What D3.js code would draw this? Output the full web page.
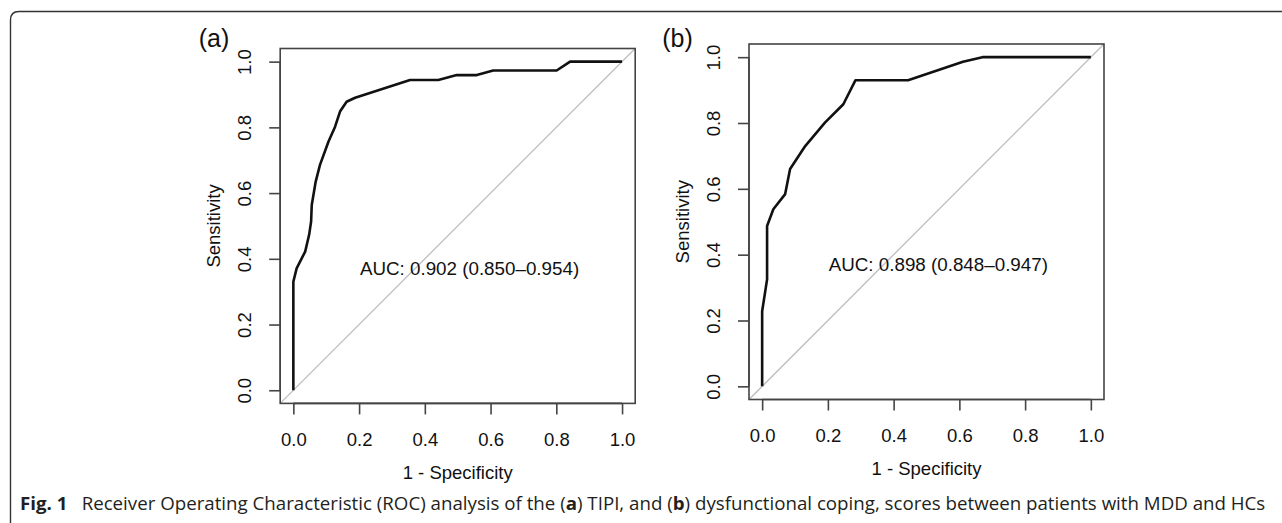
<!DOCTYPE html>
<html>
<head>
<meta charset="utf-8">
<script src="https://cdn.jsdelivr.net/npm/d3@7"></script>
<style>
  body { margin: 0; background: #fff; }
  svg { display: block; }
</style>
</head>
<body>
<div id="chart"></div>
<script>
// ROC curve points (x = 1 - specificity, y = sensitivity)
var fprA = [0, 0, 0.010, 0.036, 0.048, 0.054, 0.056, 0.068, 0.081, 0.107, 0.127, 0.142, 0.162, 0.188, 0.355, 0.441, 0.497, 0.558, 0.608, 0.801, 0.842, 1.0];
var tprA = [0, 0.330, 0.371, 0.422, 0.473, 0.513, 0.564, 0.635, 0.686, 0.757, 0.802, 0.848, 0.878, 0.890, 0.944, 0.944, 0.959, 0.959, 0.973, 0.973, 1.0, 1.0];

var fprB = [0, 0, 0.015, 0.015, 0.034, 0.070, 0.085, 0.131, 0.191, 0.247, 0.284, 0.444, 0.611, 0.670, 1.0];
var tprB = [0, 0.228, 0.325, 0.487, 0.538, 0.584, 0.660, 0.730, 0.801, 0.857, 0.930, 0.930, 0.986, 1.0, 1.0];

var xTicks = [0, 0.2, 0.4, 0.6, 0.8, 1.0];
var yTicks = [0, 0.2, 0.4, 0.6, 0.8, 1.0];
var tickLabels = ["0.0", "0.2", "0.4", "0.6", "0.8", "1.0"];

var panelTags = ["(a)", "(b)"];
var aucLabels = ["AUC: 0.902 (0.850\u20130.954)", "AUC: 0.898 (0.848\u20130.947)"];

var W = 1282, H = 523;
var svg = d3.select("#chart").append("svg")
    .attr("width", W)
    .attr("height", H);

// outer figure frame (top + left edge, rounded corner)
svg.append("path")
    .attr("d", "M10.5,523 L10.5,20 Q10.5,11.5 19,11.5 L1282,11.5")
    .attr("fill", "none")
    .attr("stroke", "#333")
    .attr("stroke-width", 1.4);

var rFont = "'Liberation Sans', Arial, Helvetica, sans-serif";

// panel boxes in pixels (R usr extends 4% beyond 0..1)
var panels = [
    {fpr: fprA, tpr: tprA, left: 280.2, right: 635.2, top: 48.5, bottom: 403.4, tag: panelTags[0], auc: aucLabels[0], tagX: 214, tagY: 47},
    {fpr: fprB, tpr: tprB, left: 749, right: 1104, top: 44, bottom: 399.5, tag: panelTags[1], auc: aucLabels[1], tagX: 677.5, tagY: 47}
];

panels.forEach(function(p) {
    var x = d3.scaleLinear().domain([-0.04, 1.04]).range([p.left, p.right]);
    var y = d3.scaleLinear().domain([-0.04, 1.04]).range([p.bottom, p.top]);

    var g = svg.append("g");

    // diagonal reference
    g.append("line")
        .attr("x1", x(-0.04)).attr("y1", y(-0.04))
        .attr("x2", x(1.04)).attr("y2", y(1.04))
        .attr("stroke", "#bdbdbd")
        .attr("stroke-width", 1.3);

    // box
    g.append("rect")
        .attr("x", p.left).attr("y", p.top)
        .attr("width", p.right - p.left).attr("height", p.bottom - p.top)
        .attr("fill", "none")
        .attr("stroke", "#444")
        .attr("stroke-width", 1.6);

    // axes
    var xAxis = d3.axisBottom(x).tickValues(xTicks)
        .tickFormat(function(d, i) { return tickLabels[i]; })
        .tickSizeOuter(0).tickSizeInner(11).tickPadding(10);
    var gx = g.append("g").attr("transform", "translate(0," + p.bottom + ")").call(xAxis);
    gx.select(".domain").attr("d", "M" + x(0) + ",0H" + x(1)).attr("stroke", "#444").attr("stroke-width", 1.6);
    gx.selectAll(".tick line").attr("stroke", "#444").attr("stroke-width", 1.6);
    gx.selectAll(".tick text")
        .attr("font-family", rFont).attr("font-size", 18.5).attr("fill", "#111")
        .attr("dy", null).attr("y", 36).attr("dominant-baseline", "central");

    var yAxis = d3.axisLeft(y).tickValues(yTicks)
        .tickFormat(function(d, i) { return tickLabels[i]; })
        .tickSizeOuter(0).tickSizeInner(11);
    var gy = g.append("g").attr("transform", "translate(" + p.left + ",0)").call(yAxis);
    gy.select(".domain").attr("d", "M0," + y(0) + "V" + y(1)).attr("stroke", "#444").attr("stroke-width", 1.6);
    gy.selectAll(".tick line").attr("stroke", "#444").attr("stroke-width", 1.6);
    gy.selectAll(".tick text")
        .attr("font-family", rFont).attr("font-size", 18.5).attr("fill", "#111")
        .attr("x", null).attr("dy", null)
        .attr("text-anchor", "middle").attr("dominant-baseline", "central")
        .attr("transform", "translate(-36,0) rotate(-90)");

    // axis titles
    g.append("text")
        .attr("x", x(0.5)).attr("y", p.bottom + 69)
        .attr("text-anchor", "middle").attr("dominant-baseline", "central")
        .attr("font-family", rFont).attr("font-size", 18.5).attr("fill", "#111")
        .text("1 - Specificity");
    g.append("text")
        .attr("transform", "translate(" + (p.left - 67) + "," + y(0.5) + ") rotate(-90)")
        .attr("text-anchor", "middle").attr("dominant-baseline", "central")
        .attr("font-family", rFont).attr("font-size", 18.5).attr("fill", "#111")
        .text("Sensitivity");

    // ROC curve
    var pts = p.fpr.map(function(d, i) { return [d, p.tpr[i]]; });
    var line = d3.line().x(function(d) { return x(d[0]); }).y(function(d) { return y(d[1]); });
    g.append("path")
        .datum(pts)
        .attr("d", line)
        .attr("fill", "none")
        .attr("stroke", "#111")
        .attr("stroke-width", 2.6)
        .attr("stroke-linejoin", "round");

    // AUC label
    g.append("text")
        .attr("x", x(0.536)).attr("y", y(0.35))
        .attr("text-anchor", "middle")
        .attr("font-family", rFont).attr("font-size", 18.8).attr("fill", "#111")
        .text(p.auc);

    // panel tag
    g.append("text")
        .attr("x", p.tagX).attr("y", p.tagY)
        .attr("text-anchor", "middle")
        .attr("font-family", rFont).attr("font-size", 25).attr("fill", "#111")
        .text(p.tag);
});

// caption: drawn at natural width, then squeezed horizontally to fit
var capG = svg.append("g");
var cap = capG.append("text")
    .attr("x", 0).attr("y", 0)
    .attr("font-family", "'Open Sans', 'Noto Sans', sans-serif")
    .attr("font-size", 18.5)
    .attr("fill", "#231f20");
cap.append("tspan").attr("font-weight", "bold").text("Fig. 1");
cap.append("tspan").text("\u2002 Receiver Operating Characteristic (ROC) analysis of the (");
cap.append("tspan").attr("font-weight", "bold").text("a");
cap.append("tspan").text(") TIPI, and (");
cap.append("tspan").attr("font-weight", "bold").text("b");
cap.append("tspan").text(") dysfunctional coping, scores between patients with MDD and HCs");
var capW = cap.node().getBBox().width;
var sx = 1246 / capW;
capG.attr("transform", "translate(20,510) scale(" + sx + ",1)");
</script>
</body>
</html>
